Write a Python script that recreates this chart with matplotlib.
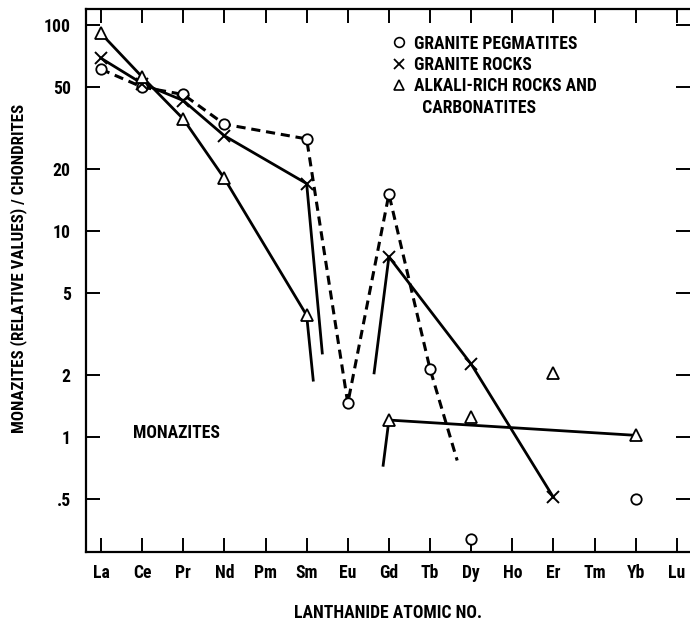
import matplotlib
matplotlib.use("Agg")
import matplotlib.pyplot as plt
from matplotlib.lines import Line2D
from matplotlib.ticker import FixedLocator, NullLocator

plt.rcParams['font.family'] = ['Roboto Condensed', 'Fira Sans Condensed', 'Archivo Narrow', 'DejaVu Sans']
plt.rcParams['font.weight'] = 'bold'
plt.rcParams['axes.labelweight'] = 'bold'

# ---- data ----
elements = ['La', 'Ce', 'Pr', 'Nd', 'Pm', 'Sm', 'Eu', 'Gd', 'Tb', 'Dy', 'Ho', 'Er', 'Tm', 'Yb', 'Lu']

# Granite pegmatites (circles, dashed)
peg_elems = ['La', 'Ce', 'Pr', 'Nd', 'Sm', 'Eu', 'Gd', 'Tb', 'Dy', 'Yb']
peg_vals = [61, 50, 46, 33, 28, 1.46, 15.1, 2.14, 0.32, 0.50]
peg_line_elems = ['La', 'Ce', 'Pr', 'Nd', 'Sm', 'Eu', 'Gd', 'Tb']
peg_tail_x = [8.66]
peg_tail_y = [0.77]

# Granite rocks (crosses, solid)
gr_elems = ['La', 'Ce', 'Pr', 'Nd', 'Sm', 'Gd', 'Dy', 'Er']
gr_vals = [69, 52, 43, 29, 17, 7.5, 2.26, 0.51]
gr_line1_elems = ['La', 'Ce', 'Pr', 'Nd', 'Sm']
gr_tail1_x = [5.38]
gr_tail1_y = [2.56]
gr_line2_elems = ['Gd', 'Dy', 'Er']
gr_head2_x = [6.64]
gr_head2_y = [2.05]

# Alkali-rich rocks and carbonatites (triangles, solid)
al_elems = ['La', 'Ce', 'Pr', 'Nd', 'Sm', 'Gd', 'Dy', 'Er', 'Yb']
al_vals = [91, 56, 35, 18, 3.9, 1.21, 1.25, 2.05, 1.02]
al_line1_elems = ['La', 'Ce', 'Pr', 'Nd', 'Sm']
al_tail1_x = [5.16]
al_tail1_y = [1.89]
al_line2_elems = ['Gd', 'Yb']
al_head2_x = [6.86]
al_head2_y = [0.73]

yticks = [0.5, 1, 2, 5, 10, 20, 50, 100]
yticklabels = ['.5', '1', '2', '5', '10', '20', '50', '100']

legend_labels = ['GRANITE PEGMATITES', 'GRANITE ROCKS', 'ALKALI-RICH ROCKS AND', '  CARBONATITES']

# ---- helpers ----
idx = {e: i for i, e in enumerate(elements)}
def pos(names):
    return [idx[n] for n in names]
def vals_for(names, all_names, all_vals):
    d = dict(zip(all_names, all_vals))
    return [d[n] for n in names]

FS = 12.7

fig = plt.figure(figsize=(6.9, 6.24), dpi=100)
ax = fig.add_axes([0.1246, 0.1154, 0.8754, 0.8702])

LW = 2.0
dash = (0, (3.0, 1.9))

# pegmatites dashed line
px = pos(peg_line_elems) + peg_tail_x
py = vals_for(peg_line_elems, peg_elems, peg_vals) + peg_tail_y
ax.plot(px, py, color='black', lw=2.2, linestyle=dash, zorder=2)

# granite rocks lines
gx1 = pos(gr_line1_elems) + gr_tail1_x
gy1 = vals_for(gr_line1_elems, gr_elems, gr_vals) + gr_tail1_y
ax.plot(gx1, gy1, color='black', lw=LW, zorder=2)
gx2 = gr_head2_x + pos(gr_line2_elems)
gy2 = gr_head2_y + vals_for(gr_line2_elems, gr_elems, gr_vals)
ax.plot(gx2, gy2, color='black', lw=LW, zorder=2)

# alkali lines
ax1x = pos(al_line1_elems) + al_tail1_x
ax1y = vals_for(al_line1_elems, al_elems, al_vals) + al_tail1_y
ax.plot(ax1x, ax1y, color='black', lw=LW, zorder=2)
ax2x = al_head2_x + pos(al_line2_elems)
ax2y = al_head2_y + vals_for(al_line2_elems, al_elems, al_vals)
ax.plot(ax2x, ax2y, color='black', lw=LW, zorder=2)

# markers
ax.plot(pos(peg_elems), peg_vals, linestyle='none', marker='o', ms=7.5,
        mfc='white', mec='black', mew=1.3, zorder=4)
ax.plot(pos(gr_elems), gr_vals, linestyle='none', marker='x', ms=8.5,
        mec='black', mew=1.4, zorder=4)
ax.plot(pos(al_elems), al_vals, linestyle='none', marker='^', ms=8.5,
        mfc='white', mec='black', mew=1.3, zorder=4)

ax.set_yscale('log')
ax.set_ylim(0.277, 119.6)
ax.set_xlim(-0.365, 14.32)

ax.yaxis.set_major_locator(FixedLocator(yticks))
ax.yaxis.set_minor_locator(NullLocator())
ax.set_yticklabels(yticklabels)
ax.set_xticks(range(len(elements)))
ax.set_xticklabels(elements)

ax.tick_params(axis='both', which='major', direction='in', length=10, width=1.4,
               labelsize=FS, top=True, right=True)
ax.tick_params(axis='y', pad=11)
ax.tick_params(axis='x', pad=8.5)

for s in ['left', 'bottom', 'top']:
    ax.spines[s].set_linewidth(1.6)
ax.spines['right'].set_visible(False)

ax.set_xlabel('LANTHANIDE ATOMIC NO.', fontsize=FS, labelpad=16)
ax.set_ylabel('MONAZITES (RELATIVE VALUES) / CHONDRITES', fontsize=12.2)
ax.yaxis.set_label_coords(-0.098, 0.523)

ax.text(0.78, 1.045, 'MONAZITES', fontsize=FS, ha='left', va='center')

handles = [
    Line2D([], [], linestyle='none', marker='o', ms=7, mfc='white', mec='black', mew=1.2),
    Line2D([], [], linestyle='none', marker='x', ms=7.5, mec='black', mew=1.3),
    Line2D([], [], linestyle='none', marker='^', ms=7.5, mfc='white', mec='black', mew=1.2),
    Line2D([], [], linestyle='none', marker=None),
]
ax.legend(handles, legend_labels, loc='upper left', bbox_to_anchor=(0.507, 0.9527),
          frameon=False, fontsize=FS, handlelength=0.8, handletextpad=0.45,
          labelspacing=0.19, borderpad=0, borderaxespad=0)

fig.savefig('out.png', dpi=100)
